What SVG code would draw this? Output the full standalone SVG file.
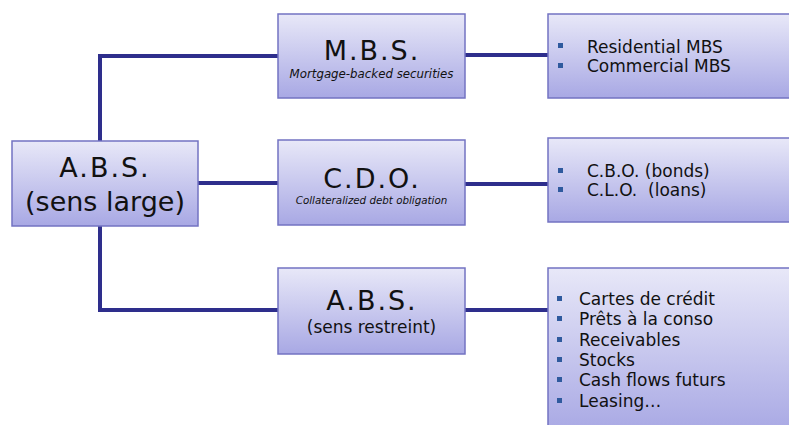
<svg xmlns="http://www.w3.org/2000/svg" width="789" height="425" viewBox="0 0 789 425">
<style>
.box{stroke:#7373c2;stroke-width:1.5;fill:url(#g)}
.con{stroke:#2e2e8c;stroke-width:4;fill:none;stroke-linecap:square}
text{font-family:"DejaVu Sans",Verdana,sans-serif;fill:#111;white-space:pre}
.big{font-size:27px;text-anchor:middle;letter-spacing:1px}
.sub{font-size:10px;font-style:italic;text-anchor:middle}
.mid{font-size:17px;text-anchor:middle}
.li{font-size:17px}
.bul{fill:#2f5a9e}
</style>
<defs>
<linearGradient id="g" x1="0" y1="0" x2="0" y2="1">
<stop offset="0" stop-color="#e8e8f8"/>
<stop offset="1" stop-color="#a8a8e4"/>
</linearGradient>
</defs>
<g id="connectors">
<path class="con" d="M100 56V310M100 56H278M198 183H278M100 310H278"/>
<path class="con" d="M465 55H548M465 184H548M465 310H548"/>
</g>
<g id="abs-large">
<rect class="box" x="12" y="141" width="186" height="85"/>
<text class="big" x="105" y="177" style="letter-spacing:2px">A.B.S.</text>
<text class="big" x="105" y="211" style="letter-spacing:0">(sens large)</text>
</g>
<g id="mbs">
<rect class="box" x="278" y="14" width="187" height="84"/>
<text class="big" x="372" y="60" style="letter-spacing:2px">M.B.S.</text>
<text class="sub" x="371.5" y="78" style="font-size:11.8px">Mortgage-backed securities</text>
</g>
<g id="cdo">
<rect class="box" x="278" y="140" width="187" height="85"/>
<text class="big" x="372" y="188" style="letter-spacing:2px">C.D.O.</text>
<text class="sub" x="371.5" y="204" style="font-size:10.3px">Collateralized debt obligation</text>
</g>
<g id="abs-restreint">
<rect class="box" x="278" y="268" width="187" height="86"/>
<text class="big" x="372" y="310" style="letter-spacing:2px">A.B.S.</text>
<text class="mid" x="371.5" y="333">(sens restreint)</text>
</g>
<g id="mbs-list">
<rect class="box" x="548" y="14" width="250" height="84"/>
<rect class="bul" x="558" y="43" width="5" height="5"/>
<rect class="bul" x="558" y="63" width="5" height="5"/>
<text class="li" x="587" y="53">Residential MBS</text>
<text class="li" x="587" y="72">Commercial MBS</text>
</g>
<g id="cdo-list">
<rect class="box" x="548" y="138" width="250" height="84"/>
<rect class="bul" x="558" y="168" width="5" height="5"/>
<rect class="bul" x="558" y="187" width="5" height="5"/>
<text class="li" x="587" y="177">C.B.O. (bonds)</text>
<text class="li" x="587" y="196">C.L.O.  (loans)</text>
</g>
<g id="abs-list">
<rect class="box" x="548" y="268" width="250" height="165"/>
<rect class="bul" x="557" y="296" width="5" height="5"/>
<rect class="bul" x="557" y="316" width="5" height="5"/>
<rect class="bul" x="557" y="337" width="5" height="5"/>
<rect class="bul" x="557" y="357" width="5" height="5"/>
<rect class="bul" x="557" y="377" width="5" height="5"/>
<rect class="bul" x="557" y="398" width="5" height="5"/>
<text class="li" x="579" y="305">Cartes de crédit</text>
<text class="li" x="579" y="325">Prêts à la conso</text>
<text class="li" x="579" y="346">Receivables</text>
<text class="li" x="579" y="366">Stocks</text>
<text class="li" x="579" y="386">Cash flows futurs</text>
<text class="li" x="579" y="407">Leasing…</text>
</g>
</svg>
